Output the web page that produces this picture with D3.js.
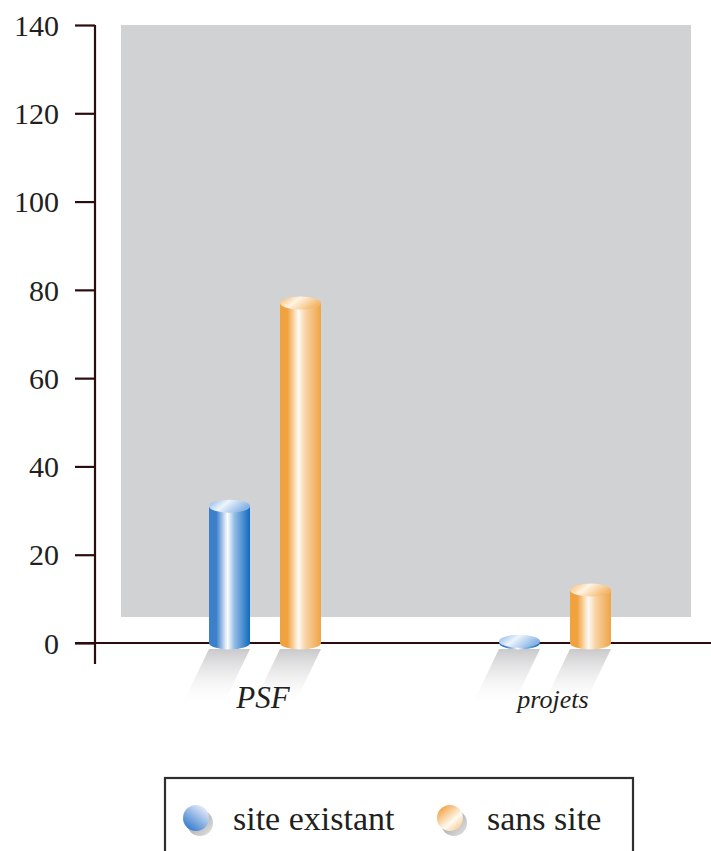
<!DOCTYPE html>
<html>
<head>
<meta charset="utf-8">
<script src="https://cdn.jsdelivr.net/npm/d3@7"></script>
<style>
  html, body { margin: 0; padding: 0; background: #fff; }
  svg { display: block; }
</style>
</head>
<body>
<svg id="chart" width="711" height="851"></svg>
<script>
// Data
const categories = ["PSF", "projets"];
const seriesNames = ["site existant", "sans site"];
const siteExistant = [31, 0.4];
const sansSite = [77, 12];
const yTicks = [0, 20, 40, 60, 80, 100, 120, 140];

const seriesValues = [siteExistant, sansSite];
const FONT = "Liberation Serif";
const INK = "#231f20";

const svg = d3.select("#chart");
const defs = svg.append("defs");

// Scales
const y = d3.scaleLinear().domain([0, 140]).range([643, 25]);
const x = d3.scaleBand().domain(categories).range([120, 700]);
const xs = d3.scaleBand().domain(seriesNames).range([-71, 71]);
const barW = 41;

// Gradients for the cylinders
const palettes = {
  "site existant": { left: "#3c80cc", mid: "#ffffff", right: "#0e6ac0", topA: "#86b3e4", topB: "#eef4fc" },
  "sans site": { left: "#f0a23e", mid: "#fffaf3", right: "#efa446", topA: "#f4b76a", topB: "#fff4e4" }
};
seriesNames.forEach((s, i) => {
  const p = palettes[s];
  const body = defs.append("linearGradient").attr("id", "body" + i).attr("x1", 0).attr("x2", 1).attr("y1", 0).attr("y2", 0);
  body.append("stop").attr("offset", "0%").attr("stop-color", p.left);
  body.append("stop").attr("offset", "18%").attr("stop-color", p.left);
  body.append("stop").attr("offset", "45%").attr("stop-color", p.mid);
  body.append("stop").attr("offset", "62%").attr("stop-color", d3.interpolateRgb(p.mid, p.right)(0.45));
  body.append("stop").attr("offset", "100%").attr("stop-color", p.right);

  const top = defs.append("linearGradient").attr("id", "top" + i).attr("x1", 0).attr("x2", 1).attr("y1", 0).attr("y2", 0.4);
  top.append("stop").attr("offset", "0%").attr("stop-color", p.topA);
  top.append("stop").attr("offset", "45%").attr("stop-color", p.topB);
  top.append("stop").attr("offset", "100%").attr("stop-color", p.topA);
});

// Legend ball gradients
const ballBlue = defs.append("linearGradient").attr("id", "ball0").attr("x1", 0.85).attr("y1", 0.05).attr("x2", 0.2).attr("y2", 0.9);
ballBlue.append("stop").attr("offset", "0%").attr("stop-color", "#eef0fa");
ballBlue.append("stop").attr("offset", "100%").attr("stop-color", "#3a7fd0");
const ballOrange = defs.append("linearGradient").attr("id", "ball1").attr("x1", 0.15).attr("y1", 0.1).attr("x2", 0.85).attr("y2", 0.9);
ballOrange.append("stop").attr("offset", "0%").attr("stop-color", "#f1a445");
ballOrange.append("stop").attr("offset", "65%").attr("stop-color", "#fffaf2");
ballOrange.append("stop").attr("offset", "100%").attr("stop-color", "#f7cf9a");
const ballShadow = defs.append("linearGradient").attr("id", "ballShadow").attr("x1", 0).attr("y1", 0).attr("x2", 1).attr("y2", 1);
ballShadow.append("stop").attr("offset", "0%").attr("stop-color", "#8e8e90");
ballShadow.append("stop").attr("offset", "100%").attr("stop-color", "#e6e6e8");

const shadowGrad = defs.append("linearGradient").attr("id", "shadowGrad").attr("x1", 0).attr("x2", 0).attr("y1", 0).attr("y2", 1);
shadowGrad.append("stop").attr("offset", "0%").attr("stop-color", "#c9c9cb");
shadowGrad.append("stop").attr("offset", "100%").attr("stop-color", "#ffffff").attr("stop-opacity", 0.2);

// Plot background
svg.append("rect")
  .attr("x", 121).attr("y", y(140))
  .attr("width", 570).attr("height", 617 - y(140))
  .attr("fill", "#d1d2d4");

// Axes
const axisColor = "#2b0d10";
const yAxis = d3.axisLeft(y).tickValues(yTicks).tickSize(20).tickPadding(16);
const gy = svg.append("g").attr("transform", "translate(95,0)").call(yAxis);
gy.attr("font-family", FONT).attr("font-size", 30);
gy.select(".domain").remove();
gy.selectAll(".tick line").attr("stroke", axisColor).attr("stroke-width", 2.2);
gy.selectAll(".tick text").attr("fill", INK).attr("dy", "0.34em");
svg.append("line").attr("x1", 95).attr("x2", 95).attr("y1", y(140)).attr("y2", 664)
  .attr("stroke", axisColor).attr("stroke-width", 2.2);
svg.append("line").attr("x1", 75).attr("x2", 711).attr("y1", y(0)).attr("y2", y(0))
  .attr("stroke", axisColor).attr("stroke-width", 2.2);

// Bars as cylinders
const rows = [];
categories.forEach((c, ci) => {
  seriesNames.forEach((s, si) => {
    rows.push({ cat: c, series: s, si, value: seriesValues[si][ci] });
  });
});
const cx = d => x(d.cat) + x.bandwidth() / 2 + xs(d.series) + xs.bandwidth() / 2;

// Cast shadows under each cylinder
svg.append("g").selectAll("path").data(rows).join("path")
  .attr("d", d => {
    const c = cx(d), y0 = y(0) + 6, x0 = c - barW / 2, x1 = c + barW / 2, dx = 26, dy = 54;
    return `M${x0},${y0}L${x1},${y0}L${x1 - dx},${y0 + dy}L${x0 - dx},${y0 + dy}Z`;
  })
  .attr("fill", "url(#shadowGrad)");

const ryTop = 6.5;
const bars = svg.append("g").selectAll("g").data(rows).join("g");
bars.append("path")
  .attr("d", d => {
    const c = cx(d), x0 = c - barW / 2, x1 = c + barW / 2, yt = y(d.value), yb = y(0);
    return `M${x0},${yt}L${x0},${yb}A${barW / 2},${ryTop} 0 0 0 ${x1},${yb}L${x1},${yt}Z`;
  })
  .attr("fill", d => `url(#body${d.si})`);
bars.append("ellipse")
  .attr("cx", d => cx(d)).attr("cy", d => y(d.value))
  .attr("rx", barW / 2).attr("ry", ryTop)
  .attr("fill", d => `url(#top${d.si})`);

// Category labels
svg.append("text").attr("x", x("PSF") + x.bandwidth() / 2 - 2).attr("y", 708)
  .attr("text-anchor", "middle").attr("font-family", FONT).attr("font-style", "italic")
  .attr("font-size", 31).attr("fill", INK)
  .text(categories[0]);
svg.append("text").attr("x", x("projets") + x.bandwidth() / 2 - 2).attr("y", 708)
  .attr("text-anchor", "middle").attr("font-family", FONT).attr("font-style", "italic")
  .attr("font-size", 26).attr("fill", INK)
  .text(categories[1]);

// Legend
svg.append("rect").attr("x", 165).attr("y", 778).attr("width", 468).attr("height", 90)
  .attr("fill", "none").attr("stroke", "#2f2f2f").attr("stroke-width", 2.2);
const legendX = [196, 450];
const lg = svg.append("g").selectAll("g").data(seriesNames).join("g")
  .attr("transform", (d, i) => `translate(${legendX[i]},818)`);
lg.append("circle").attr("cx", 4).attr("cy", 5).attr("r", 13).attr("fill", "url(#ballShadow)");
lg.append("circle").attr("r", 13).attr("fill", (d, i) => `url(#ball${i})`);
lg.append("text").attr("x", 37).attr("y", 12)
  .attr("font-family", FONT).attr("font-size", 34).attr("fill", INK)
  .text(d => d);
</script>
</body>
</html>
